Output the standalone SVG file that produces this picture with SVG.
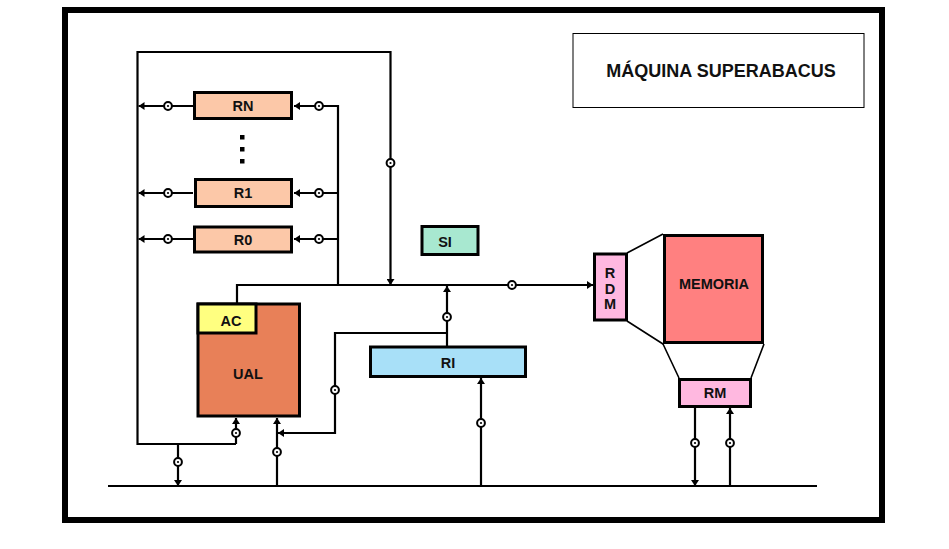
<svg xmlns="http://www.w3.org/2000/svg" xmlns:xlink="http://www.w3.org/1999/xlink" width="949" height="549" viewBox="0 0 949 549">
<style>
.box{stroke:#000;stroke-width:3}
.ln{fill:none;stroke:#000;stroke-width:2.2}
.thin{fill:none;stroke:#000;stroke-width:1.6}
.lbl{font-family:"Liberation Sans",Arial,sans-serif;font-weight:bold;font-size:14.5px;fill:#111;text-anchor:middle;dominant-baseline:central}
.title{font-family:"Liberation Sans",Arial,sans-serif;font-weight:bold;font-size:18px;fill:#111;text-anchor:middle}
.reg{fill:#FCC8A8}
</style>
<defs>
<marker id="ah" viewBox="0 0 6 8" refX="6" refY="4" markerWidth="6" markerHeight="8" markerUnits="userSpaceOnUse" orient="auto">
<path d="M0,0 L6,4 L0,8 z" fill="#000"/>
</marker>
<g id="via">
<circle r="3.9" fill="#fff" stroke="#000" stroke-width="2"/>
<circle r="1.1" fill="#000"/>
</g>
</defs>
<rect x="0" y="0" width="949" height="549" fill="#fff"/>
<rect id="frame" x="65" y="10" width="817" height="510" fill="none" stroke="#000" stroke-width="6"/>
<g id="title">
<rect x="573" y="33.5" width="291" height="74" fill="#fff" stroke="#000" stroke-width="1"/>
<text class="title" x="721" y="77">MÁQUINA SUPERABACUS</text>
</g>
<g id="connectors">
<path class="ln" d="M236,444 H137.5 V52 H390.5 V285" marker-end="url(#ah)"/>
<path class="ln" d="M236,444 V418" marker-end="url(#ah)"/>
<path class="ln" d="M178,444 V486" marker-end="url(#ah)"/>
<path class="ln" d="M193,106 H138.5" marker-end="url(#ah)"/>
<path class="ln" d="M193,193 H138.5" marker-end="url(#ah)"/>
<path class="ln" d="M193,239 H138.5" marker-end="url(#ah)"/>
<path class="ln" d="M338,285 V106 H294" marker-end="url(#ah)"/>
<path class="ln" d="M338,193 H294" marker-end="url(#ah)"/>
<path class="ln" d="M338,239 H294" marker-end="url(#ah)"/>
<path class="ln" d="M237,303 V285 H593" marker-end="url(#ah)"/>
<path class="ln" d="M447,346 V286" marker-end="url(#ah)"/>
<path class="ln" d="M447,333 H335 V433 H278" marker-end="url(#ah)"/>
<path class="ln" d="M277,486 V418" marker-end="url(#ah)"/>
<path class="ln" d="M481,486 V378" marker-end="url(#ah)"/>
<path class="ln" d="M695,408 V486" marker-end="url(#ah)"/>
<path class="ln" d="M730,486 V408" marker-end="url(#ah)"/>
<path class="ln" d="M108,486 H817"/>
<path class="thin" d="M627,253 L663,234 M627,321 L663,344 M663,344 L679,378 M764,344 L751,378"/>
<use xlink:href="#via" x="390.5" y="163"/>
<use xlink:href="#via" x="168" y="106"/>
<use xlink:href="#via" x="168" y="193"/>
<use xlink:href="#via" x="168" y="239"/>
<use xlink:href="#via" x="319" y="106"/>
<use xlink:href="#via" x="319" y="193"/>
<use xlink:href="#via" x="319" y="239"/>
<use xlink:href="#via" x="512" y="285"/>
<use xlink:href="#via" x="447" y="317"/>
<use xlink:href="#via" x="335" y="390"/>
<use xlink:href="#via" x="236" y="433"/>
<use xlink:href="#via" x="178" y="462"/>
<use xlink:href="#via" x="277" y="452"/>
<use xlink:href="#via" x="481" y="423"/>
<use xlink:href="#via" x="695" y="443"/>
<use xlink:href="#via" x="730" y="443"/>
</g>
<g id="RN">
<rect class="box reg" x="194.5" y="92.5" width="97" height="26"/>
<text class="lbl" x="243" y="106">RN</text>
</g>
<g id="dots">
<rect x="240" y="135" width="4.5" height="4.5" fill="#000"/>
<rect x="240" y="147" width="4.5" height="4.5" fill="#000"/>
<rect x="240" y="159" width="4.5" height="4.5" fill="#000"/>
</g>
<g id="R1">
<rect class="box reg" x="195.5" y="179.5" width="96" height="27"/>
<text class="lbl" x="243" y="193">R1</text>
</g>
<g id="R0">
<rect class="box reg" x="194.5" y="227" width="97" height="25"/>
<text class="lbl" x="243" y="239.5">R0</text>
</g>
<g id="UAL">
<rect class="box" x="198" y="304" width="101.5" height="112" fill="#E88058"/>
<text class="lbl" x="248" y="374">UAL</text>
</g>
<g id="AC">
<rect class="box" x="198" y="304" width="58" height="29" fill="#FFFF80"/>
<text class="lbl" x="231" y="320.5">AC</text>
</g>
<g id="SI">
<rect class="box" x="422" y="226.5" width="56" height="28" fill="#A8E8D0"/>
<text class="lbl" x="445" y="241.5">SI</text>
</g>
<g id="RI">
<rect class="box" x="370.5" y="347" width="155" height="29.5" fill="#A8E0F8"/>
<text class="lbl" x="448" y="362.5">RI</text>
</g>
<g id="RDM">
<rect class="box" x="594.5" y="254" width="32" height="66" fill="#FFB8E0"/>
<text class="lbl" x="610" y="273">R</text>
<text class="lbl" x="610" y="289">D</text>
<text class="lbl" x="610" y="304">M</text>
</g>
<g id="MEMORIA">
<rect class="box" x="664.5" y="235.5" width="98" height="107" fill="#FF8080"/>
<text class="lbl" x="714" y="284">MEMORIA</text>
</g>
<g id="RM">
<rect class="box" x="679.5" y="379.5" width="71" height="27" fill="#FFB8E0"/>
<text class="lbl" x="715" y="393">RM</text>
</g>
</svg>
